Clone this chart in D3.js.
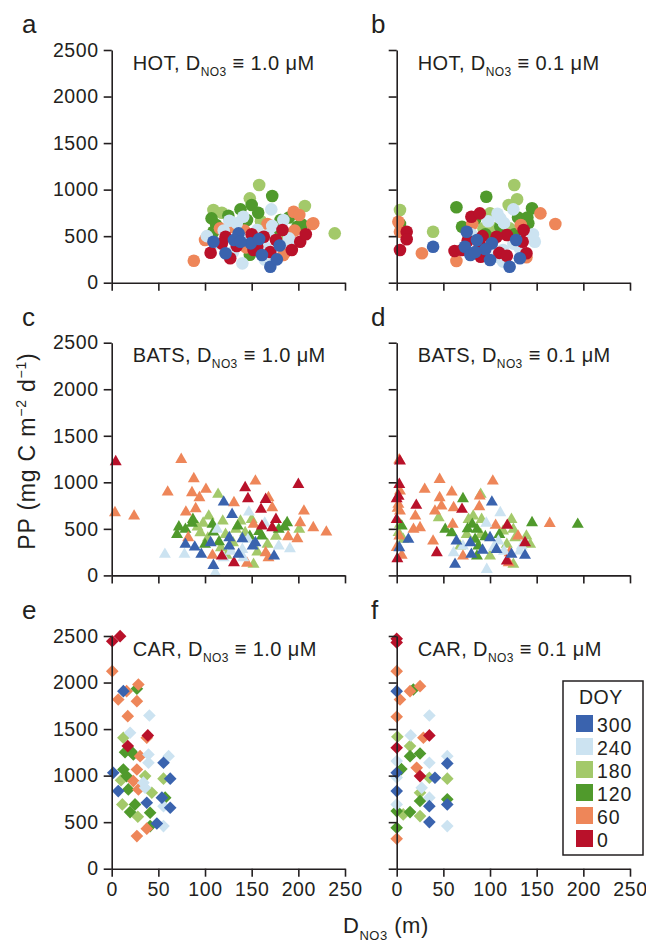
<!DOCTYPE html>
<html>
<head>
<meta charset="utf-8">
<script src="https://cdn.jsdelivr.net/npm/d3@7"></script>
<style>
  body { margin: 0; background: #fff; }
  svg { font-family: "Liberation Sans", Arial, sans-serif; }
  .tick text { fill: #231f20; }
</style>
</head>
<body>
<div id="chart"></div>
<script>
// DOY classes used for colouring (legend order, top to bottom)
const doyClasses = [300, 240, 180, 120, 60, 0];
const doyColors = ["#3a63ae", "#cce3f1", "#a3c96a", "#509a2c", "#ee8659", "#b9112a"];
const drawOrder = [180, 120, 60, 240, 0, 300];

const xTicks = [0, 50, 100, 150, 200, 250];
const yTicks = [0, 500, 1000, 1500, 2000, 2500];

// [D_NO3 (m), PP, DOY class]
const hotD10 = [
  [158, 1049, 180], [148, 906, 180], [172, 931, 120], [207, 824, 180], [239, 530, 180],
  [88, 236, 60], [109, 781, 180], [118, 752, 180], [107, 691, 120], [138, 788, 120],
  [150, 834, 120], [171, 788, 240], [157, 752, 120], [126, 666, 240], [141, 709, 240],
  [181, 673, 120], [195, 763, 60], [201, 727, 60], [216, 638, 60], [199, 601, 120],
  [203, 630, 120], [167, 630, 60], [184, 673, 240], [109, 548, 120], [116, 584, 60],
  [100, 459, 60], [109, 440, 300], [113, 423, 240], [122, 494, 0], [136, 530, 300],
  [131, 459, 300], [134, 394, 0], [106, 322, 0], [122, 316, 300], [127, 262, 0],
  [140, 208, 240], [149, 423, 300], [152, 351, 0], [161, 297, 300], [170, 172, 300],
  [177, 251, 300], [163, 494, 0], [176, 459, 0], [183, 566, 0], [168, 512, 240],
  [190, 476, 240], [193, 351, 0], [202, 440, 0], [184, 297, 60], [156, 566, 240],
  [156, 387, 0], [145, 673, 120], [134, 638, 240], [204, 620, 120], [215, 630, 60],
  [128, 600, 60], [175, 560, 120], [145, 470, 240], [190, 420, 240], [165, 380, 240],
  [120, 560, 240], [130, 330, 240], [142, 560, 60], [148, 300, 120], [160, 660, 180],
  [186, 520, 180], [196, 560, 60], [180, 400, 300], [170, 330, 0], [118, 420, 0],
  [138, 440, 300], [150, 520, 0], [158, 470, 300], [125, 720, 120], [190, 700, 120],
  [172, 610, 240], [112, 620, 120], [102, 500, 240], [208, 520, 0], [164, 250, 240],
  [144, 380, 60], [186, 330, 60]
];
const hotD01 = [
  [126, 1049, 180], [129, 896, 180], [96, 924, 120], [64, 810, 120], [3.5, 781, 180],
  [1.8, 655, 60], [3.5, 630, 120], [3.5, 548, 60], [10.7, 548, 0], [10.7, 466, 0],
  [3.5, 351, 0], [27, 316, 60], [39, 387, 300], [39, 548, 180], [62, 340, 0],
  [64, 233, 60], [70, 601, 120], [81, 630, 60], [80, 709, 0], [89, 745, 0],
  [100, 745, 180], [111, 691, 240], [120, 834, 180], [125, 788, 240], [145, 799, 120],
  [154, 745, 60], [170, 630, 60], [133, 620, 60], [141, 638, 120], [93, 584, 180],
  [104, 584, 180], [75, 548, 300], [73, 387, 300], [79, 297, 300], [90, 279, 0],
  [89, 405, 0], [102, 423, 300], [107, 279, 240], [100, 244, 300], [114, 226, 240],
  [121, 172, 300], [132, 262, 300], [128, 459, 300], [148, 440, 240], [139, 316, 0],
  [139, 273, 60], [118, 512, 0], [114, 351, 240], [136, 566, 0], [107, 494, 0],
  [86, 459, 300], [70, 351, 0], [111, 601, 120], [121, 584, 180], [130, 700, 120],
  [115, 640, 240], [95, 520, 120], [125, 420, 240], [84, 680, 120], [98, 660, 240],
  [76, 450, 0], [95, 360, 300], [110, 320, 0], [84, 330, 300], [118, 290, 0],
  [132, 370, 240], [146, 520, 240], [140, 700, 120], [108, 740, 240], [92, 500, 0],
  [126, 520, 120], [80, 520, 240], [100, 410, 240], [135, 440, 0]
];
const batsD10 = [
  [4.3, 1221, 0], [74.5, 1246, 60], [3.5, 673, 60], [24, 637, 60], [60, 895, 60],
  [88, 1038, 60], [86, 888, 60], [101, 924, 60], [94, 834, 60], [154, 1013, 60],
  [143, 942, 0], [146, 824, 0], [200, 977, 0], [114, 870, 180], [120, 787, 300],
  [131, 781, 60], [79.5, 680, 60], [90, 716, 60], [168, 834, 60], [165, 816, 0],
  [172, 727, 60], [160, 709, 0], [176, 601, 0], [206, 691, 60], [202, 566, 60],
  [216, 512, 60], [230, 465, 60], [201, 494, 180], [189, 415, 60], [199, 394, 60],
  [191, 287, 240], [188, 566, 120], [70, 440, 120], [87, 601, 120], [79, 494, 120],
  [95, 458, 180], [108, 548, 120], [109, 465, 120], [104, 637, 180], [119, 583, 180],
  [129, 655, 300], [147, 680, 240], [138, 583, 180], [150, 601, 180], [152, 548, 60],
  [161, 530, 0], [172, 512, 0], [179, 494, 120], [133, 494, 180], [126, 405, 300],
  [140, 394, 300], [143, 458, 180], [167, 333, 180], [161, 422, 120], [179, 315, 240],
  [174, 207, 300], [165, 244, 60], [168, 190, 60], [145, 129, 60], [152, 118, 180],
  [131, 136, 0], [120, 190, 240], [109, 107, 300], [111, 29, 240], [57, 226, 240],
  [78, 226, 240], [96, 226, 300], [89, 304, 300], [79, 333, 300], [82, 405, 60],
  [100, 333, 120], [106, 351, 300], [117, 297, 180], [140, 279, 240], [151, 315, 300],
  [126, 315, 300], [123, 215, 180], [108, 215, 60], [118, 207, 0], [136, 226, 300],
  [146, 387, 240], [154, 351, 300], [122, 440, 180], [113, 494, 240], [98, 560, 180],
  [135, 530, 120], [158, 470, 120], [185, 520, 120], [92, 520, 180], [103, 400, 180],
  [115, 360, 120], [130, 350, 180], [148, 420, 120], [164, 560, 240], [176, 420, 180],
  [86, 560, 120], [72, 520, 120], [128, 260, 240], [156, 250, 180], [141, 190, 240]
];
const batsD01 = [
  [3.5, 1228, 0], [2.7, 1240, 60], [2.8, 977, 0], [3.5, 906, 60], [0, 824, 0],
  [1.8, 763, 60], [3.5, 691, 60], [3.5, 548, 180], [5.4, 530, 120], [2.8, 422, 60],
  [7, 387, 180], [12.5, 387, 300], [2.8, 297, 300], [5.4, 215, 60], [0.7, 179, 0],
  [46, 1031, 60], [30, 924, 60], [46, 834, 60], [59, 895, 60], [48, 745, 60],
  [41, 691, 60], [21, 752, 0], [20, 637, 60], [18, 494, 60], [25, 512, 60],
  [45, 620, 180], [61, 727, 60], [70, 709, 0], [71, 824, 120], [90, 870, 180],
  [89, 852, 60], [88.5, 738, 60], [102, 787, 300], [103, 1013, 60], [111, 673, 240],
  [123, 601, 180], [145, 566, 120], [164, 558, 60], [194, 548, 120], [106, 537, 60],
  [81, 548, 120], [118.5, 537, 0], [82, 637, 180], [77, 601, 180], [60, 548, 60],
  [52, 494, 120], [59, 458, 120], [68, 315, 180], [64, 368, 300], [75, 440, 180],
  [86, 494, 120], [87.5, 315, 120], [80, 226, 300], [61, 244, 240], [71, 207, 60],
  [86, 207, 120], [100, 207, 180], [100, 405, 300], [109, 368, 240], [107, 279, 300],
  [127, 405, 180], [139, 422, 180], [143, 333, 180], [134, 315, 240], [130, 422, 60],
  [137.5, 215, 300], [137.5, 351, 0], [125, 494, 180], [118, 333, 180], [123, 226, 300],
  [132, 261, 240], [121, 244, 60], [120, 136, 60], [125, 118, 180], [118, 154, 0],
  [96.5, 64, 240], [62.5, 118, 300], [43, 244, 0], [39, 368, 60], [95, 415, 120],
  [79, 351, 300], [114, 476, 180], [91, 601, 180], [84, 387, 120], [71, 315, 240],
  [110, 440, 120], [96, 560, 240], [2, 460, 180], [0, 600, 0], [1, 720, 60],
  [2, 850, 0], [0, 300, 60], [90, 440, 180], [76, 500, 120], [104, 300, 240],
  [92, 270, 300], [115, 260, 240]
];
const carD10 = [
  [0.6, 2444, 0], [9, 2498, 0], [0.6, 2122, 60], [12.5, 1907, 300], [16, 1907, 60],
  [27, 1933, 120], [28.6, 1979, 60], [7, 1818, 60], [27, 1800, 60], [17.2, 1639, 60],
  [40.4, 1646, 240], [19.7, 1461, 240], [12.5, 1407, 180], [38.7, 1432, 0], [37.6, 1407, 60],
  [17.2, 1317, 0], [23.2, 1227, 120], [14.3, 1252, 120], [30.4, 1209, 60], [39.4, 1227, 240],
  [61, 1209, 240], [39.4, 1138, 240], [55.5, 1138, 300], [27, 1066, 60], [1.7, 1031, 300],
  [12.5, 1066, 120], [16, 995, 120], [35.8, 995, 180], [55.5, 967, 180], [62.7, 967, 300],
  [23.2, 941, 60], [34, 924, 240], [35.8, 870, 240], [7, 834, 300], [17.8, 852, 120],
  [28.6, 852, 60], [43, 816, 180], [53.8, 763, 300], [57.3, 763, 120], [37.6, 709, 300],
  [55.5, 672, 240], [62.7, 655, 300], [25, 691, 120], [11.4, 691, 180], [19.7, 608, 120],
  [28, 558, 180], [41.2, 601, 120], [48.4, 486, 300], [41.2, 458, 120], [37.6, 430, 60],
  [55.5, 458, 240], [27, 350, 60], [21, 1260, 120], [10, 950, 180]
];
const carD01 = [
  [0, 2470, 0], [0, 2430, 0], [0, 2122, 60], [0, 1907, 300], [25, 1961, 60],
  [14.3, 1907, 60], [17.8, 1925, 120], [3.5, 1818, 60], [0, 1632, 60], [35, 1646, 240],
  [0.7, 1418, 180], [15, 1432, 240], [28.6, 1407, 60], [35, 1432, 0], [14.3, 1317, 180],
  [0, 1299, 0], [14.3, 1209, 120], [25, 1238, 120], [0, 1156, 240], [35, 1138, 240],
  [54.2, 1209, 240], [54.2, 1131, 300], [21.4, 1085, 60], [0, 1031, 300], [35, 977, 180],
  [41, 977, 300], [25, 995, 0], [54.2, 967, 180], [26.8, 870, 240], [0, 834, 300],
  [25, 816, 180], [0, 691, 240], [25, 727, 120], [35, 763, 240], [35, 672, 300],
  [54.2, 691, 300], [54.2, 745, 120], [14.3, 608, 120], [25, 565, 180], [0, 619, 120],
  [7, 583, 180], [0, 440, 120], [35, 501, 300], [54.2, 458, 240], [0, 322, 60],
  [0, 980, 240], [5, 1070, 120]
];

const panels = [
  {letter: "a", site: "HOT", conc: "1.0", data: hotD10, shape: "circle", col: 0, row: 0},
  {letter: "b", site: "HOT", conc: "0.1", data: hotD01, shape: "circle", col: 1, row: 0},
  {letter: "c", site: "BATS", conc: "1.0", data: batsD10, shape: "triangle", col: 0, row: 1},
  {letter: "d", site: "BATS", conc: "0.1", data: batsD01, shape: "triangle", col: 1, row: 1},
  {letter: "e", site: "CAR", conc: "1.0", data: carD10, shape: "diamond", col: 0, row: 2},
  {letter: "f", site: "CAR", conc: "0.1", data: carD01, shape: "diamond", col: 1, row: 2}
];

const W = 646, H = 943;
const colX = [111.7, 396.7];
const rowY = [50, 342.7, 636];
const plotW = 233.3, plotH = 232.7;
const ink = "#231f20";

const color = d3.scaleOrdinal().domain(doyClasses).range(doyColors);

const svg = d3.select("#chart").append("svg")
  .attr("width", W).attr("height", H);

panels.forEach(p => {
  const x0 = colX[p.col], y0 = rowY[p.row];
  const g = svg.append("g").attr("transform", `translate(${x0},${y0})`);

  const x = d3.scaleLinear().domain([0, 250]).range([0, plotW]);
  const y = d3.scaleLinear().domain([0, 2500]).range([plotH, 0]);

  // points, drawn class by class
  const sorted = p.data.slice().sort((a, b) => drawOrder.indexOf(a[2]) - drawOrder.indexOf(b[2]));
  if (p.shape === "circle") {
    g.selectAll("circle.pt").data(sorted).enter().append("circle")
      .attr("class", "pt")
      .attr("cx", d => x(d[0]))
      .attr("cy", d => y(d[1]))
      .attr("r", 6.3)
      .attr("fill", d => color(d[2]));
  } else if (p.shape === "triangle") {
    const tri = d3.symbol().type(d3.symbolTriangle).size(62);
    g.selectAll("path.pt").data(sorted).enter().append("path")
      .attr("class", "pt")
      .attr("d", tri)
      .attr("transform", d => `translate(${x(d[0])},${y(d[1])})`)
      .attr("fill", d => color(d[2]));
  } else {
    const sq = d3.symbol().type(d3.symbolSquare).size(80);
    g.selectAll("path.pt").data(sorted).enter().append("path")
      .attr("class", "pt")
      .attr("d", sq)
      .attr("transform", d => `translate(${x(d[0])},${y(d[1])}) rotate(45)`)
      .attr("fill", d => color(d[2]));
  }

  // axes
  const yAxis = d3.axisLeft(y).tickValues(yTicks).tickFormat(d3.format("d"))
    .tickSize(8).tickSizeOuter(0).tickPadding(5);
  if (p.col === 1) yAxis.tickFormat("");
  const ya = g.append("g").call(yAxis);

  const xAxis = d3.axisBottom(x).tickValues(xTicks).tickFormat(d3.format("d"))
    .tickSize(8).tickSizeOuter(0).tickPadding(5);
  if (p.row < 2) xAxis.tickFormat("");
  const xa = g.append("g").attr("transform", `translate(0,${plotH})`).call(xAxis);

  [ya, xa].forEach(a => {
    a.select(".domain").attr("stroke", ink).attr("stroke-width", 1.6);
    a.selectAll(".tick line").attr("stroke", ink).attr("stroke-width", 1.6);
    a.selectAll(".tick text").attr("font-size", 19.5).attr("letter-spacing", "0.6px")
      .attr("font-family", "Liberation Sans, Arial, sans-serif");
  });

  // title
  const t = g.append("text")
    .attr("x", 21).attr("y", 19.5)
    .attr("font-size", 20).attr("letter-spacing", "0.4px").attr("fill", ink);
  t.append("tspan").text(`${p.site}, D`);
  t.append("tspan").attr("font-size", 12).attr("dy", 6).text("NO3");
  t.append("tspan").attr("dy", -6).text(` \u2261 ${p.conc} \u03bcM`);

  // panel letter
  svg.append("text")
    .attr("x", p.col === 0 ? 22 : 371)
    .attr("y", y0 - 17)
    .attr("font-size", 26)
    .attr("fill", ink)
    .text(p.letter);
});

// y axis label
const yl = svg.append("text")
  .attr("transform", `translate(35,${rowY[1] + plotH / 2 - 8}) rotate(-90)`)
  .attr("text-anchor", "middle")
  .attr("font-size", 23).attr("letter-spacing", "0.8px").attr("fill", ink);
yl.append("tspan").text("PP (mg C m");
yl.append("tspan").attr("font-size", 14).attr("dy", -9).text("\u22122");
yl.append("tspan").attr("dy", 9).text(" d");
yl.append("tspan").attr("font-size", 14).attr("dy", -9).text("\u22121");
yl.append("tspan").attr("dy", 9).text(")");

// x axis label
const xl = svg.append("text")
  .attr("x", 343).attr("y", 933)
  .attr("font-size", 22).attr("letter-spacing", "0.5px").attr("fill", ink);
xl.append("tspan").text("D");
xl.append("tspan").attr("font-size", 13).attr("dy", 7).text("NO3");
xl.append("tspan").attr("dy", -7).text(" (m)");

// legend
const lg = svg.append("g").attr("transform", "translate(563,681)");
lg.append("rect")
  .attr("width", 80).attr("height", 174)
  .attr("fill", "#fff").attr("stroke", ink).attr("stroke-width", 1.5);
lg.append("text").attr("x", 16).attr("y", 23)
  .attr("font-size", 19.5).attr("letter-spacing", "0.5px").attr("fill", ink).text("DOY");
const rows = lg.selectAll(".lrow").data(doyClasses).enter().append("g")
  .attr("class", "lrow")
  .attr("transform", (d, i) => `translate(13,${34 + i * 23})`);
rows.append("rect").attr("width", 17).attr("height", 17).attr("fill", d => color(d));
rows.append("text").attr("x", 21).attr("y", 16.5)
  .attr("font-size", 19.5).attr("letter-spacing", "0.9px").attr("fill", ink)
  .text(d => d);
</script>
</body>
</html>
